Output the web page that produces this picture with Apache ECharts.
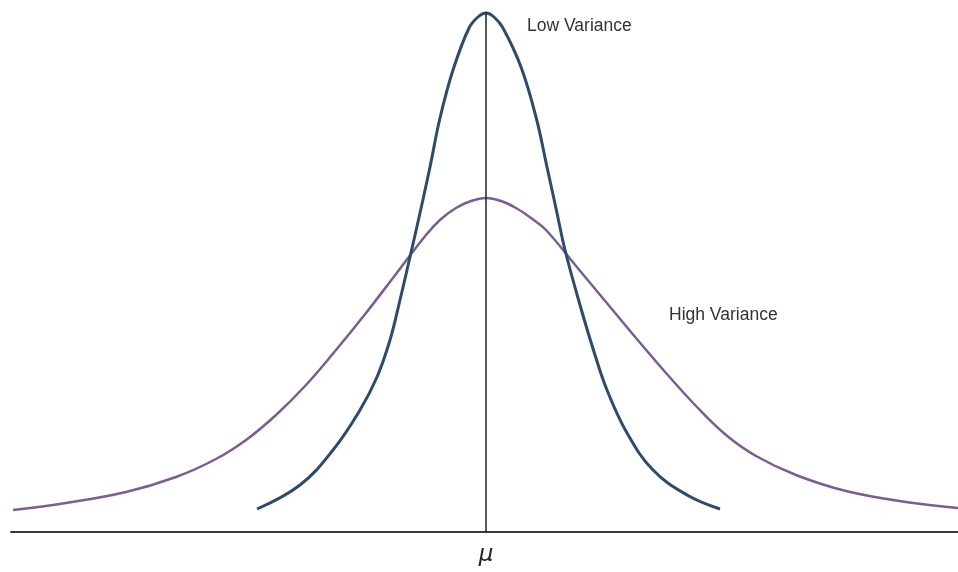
<!DOCTYPE html>
<html>
<head>
<meta charset="utf-8">
<title>Low vs High Variance</title>
<script src="https://cdn.jsdelivr.net/npm/echarts@6/dist/echarts.min.js"></script>
<style>
  html, body { margin: 0; padding: 0; background: #fff; }
  #chart { width: 958px; height: 572px; }
</style>
</head>
<body>
<div id="chart"></div>
<script>
// x measured from the mean (mu = 0), y = height above the axis
const lowVariance = [
  [-229, 23], [-186, 47], [-153, 82], [-126, 122], [-109, 155], [-96, 192],
  [-86, 232], [-76, 275], [-66, 319], [-56, 365], [-46, 414], [-33, 462],
  [-17, 504], [-8, 515], [0, 519], [8, 515], [17, 504], [35, 465],
  [50, 415], [61, 365], [71, 319], [79, 282], [94, 227], [109, 177],
  [121, 142], [141, 99], [167, 62], [201, 37], [234, 23]
]
const highVariance = [
  [-473, 22], [-420, 29], [-360, 40], [-310, 55], [-270, 73], [-240, 92],
  [-210, 117], [-180, 147], [-150, 182], [-120, 219], [-90, 258], [-60, 297],
  [-45, 313], [-30, 324], [-15, 331], [0, 334], [15, 331], [30, 324],
  [45, 314], [60, 302], [90, 266], [120, 230], [150, 194], [180, 159],
  [210, 126], [240, 97], [270, 76], [310, 57], [360, 41], [420, 30], [472, 24]
]
const meanLine = [[0, 0], [0, 520]]
const meanTicks = [0]

let chart = echarts.init(document.getElementById('chart'))
chart.setOption({
  animation: false,
  grid: { left: 11, right: 0, top: 0, bottom: 40 },
  xAxis: {
    type: 'value',
    min: -475,
    max: 472,
    splitLine: { show: false },
    axisTick: { show: false },
    axisLine: { lineStyle: { color: '#3a3a3a', width: 2 } },
    axisLabel: {
      customValues: meanTicks,
      formatter: function () { return 'μ' },
      margin: 12,
      fontSize: 23,
      fontStyle: 'italic',
      fontFamily: 'DejaVu Sans',
      color: '#222'
    }
  },
  yAxis: {
    type: 'value',
    min: 0,
    max: 532,
    show: false
  },
  graphic: [
    {
      type: 'text',
      left: 527,
      top: 17,
      style: { text: 'Low Variance', fontSize: 17.5, fontFamily: 'Liberation Sans', fill: '#333' }
    },
    {
      type: 'text',
      left: 669,
      top: 306,
      style: { text: 'High Variance', fontSize: 17.5, fontFamily: 'Liberation Sans', fill: '#333' }
    }
  ],
  series: [
    {
      name: 'High Variance',
      type: 'line',
      data: highVariance,
      smooth: 0.4,
      showSymbol: false,
      lineStyle: { color: '#7b5c95', width: 2.5 }
    },
    {
      name: 'Low Variance',
      type: 'line',
      data: lowVariance,
      smooth: 0.4,
      showSymbol: false,
      lineStyle: { color: '#2d4b6c', width: 3 }
    },
    {
      name: 'mean',
      type: 'line',
      data: meanLine,
      showSymbol: false,
      lineStyle: { color: '#222', width: 1.5 }
    }
  ]
})
</script>
</body>
</html>
